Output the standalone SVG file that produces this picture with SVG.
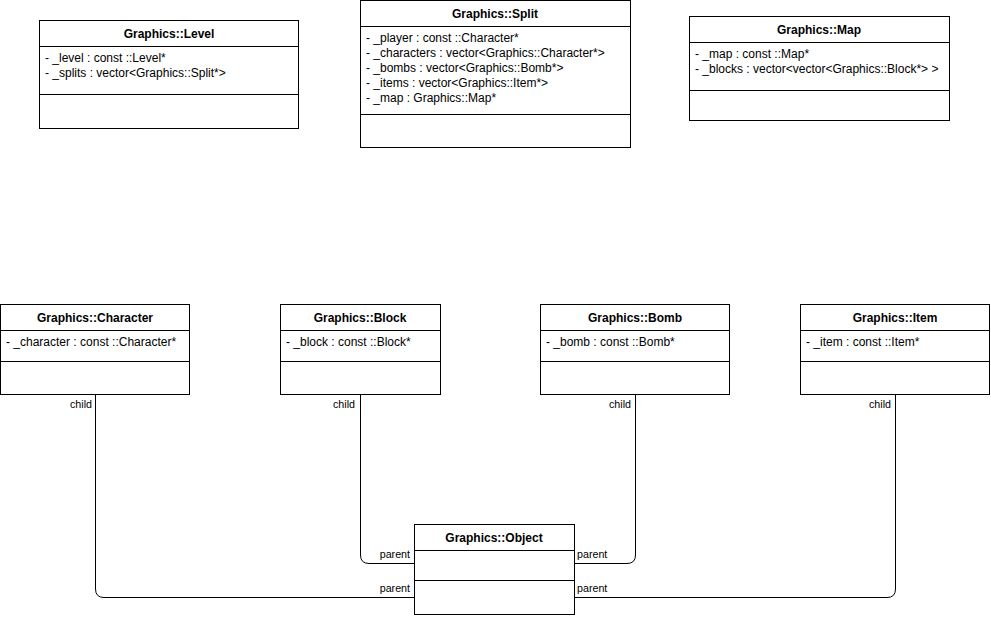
<svg xmlns="http://www.w3.org/2000/svg" width="991" height="618" viewBox="0 0 991 618">
<style>
.box{fill:#fff;stroke:#000;stroke-width:1}
.ln{stroke:#000;stroke-width:1;fill:none}
.t{font-family:"Liberation Sans",Arial,sans-serif;font-size:12px;font-weight:bold;text-anchor:middle;fill:#000}
.a{font-family:"Liberation Sans",Arial,sans-serif;font-size:12px;fill:#000}
.l{font-family:"Liberation Sans",Arial,sans-serif;font-size:10.7px;fill:#000}
</style>
<rect width="991" height="618" fill="#fff"/>
<g id="connectors">
<path class="ln" d="M95.5,394 V589 Q95.5,597.5 104,597.5 H414"/>
<path class="ln" d="M360.5,394 V555 Q360.5,563.5 369,563.5 H414"/>
<path class="ln" d="M635.5,394 V555 Q635.5,563.5 627,563.5 H574"/>
<path class="ln" d="M895.5,394 V589 Q895.5,597.5 887,597.5 H574"/>
<text class="l" x="92" y="408" text-anchor="end">child</text>
<text class="l" x="355" y="408" text-anchor="end">child</text>
<text class="l" x="631" y="408" text-anchor="end">child</text>
<text class="l" x="891" y="408" text-anchor="end">child</text>
<text class="l" x="410" y="558" text-anchor="end">parent</text>
<text class="l" x="410" y="592" text-anchor="end">parent</text>
<text class="l" x="577" y="558">parent</text>
<text class="l" x="577" y="592">parent</text>
</g>
<g id="level">
<rect class="box" x="39.5" y="20.5" width="259" height="108"/>
<path class="ln" d="M39.5,46.5 H298.5 M39.5,94.5 H298.5"/>
<text class="t" x="169" y="38">Graphics::Level</text>
<text class="a" x="45" y="62">- _level : const ::Level*</text>
<text class="a" x="45" y="77">- _splits : vector&lt;Graphics::Split*&gt;</text>
</g>
<g id="split">
<rect class="box" x="360.5" y="0.5" width="270" height="147"/>
<path class="ln" d="M360.5,26.5 H630.5 M360.5,114.5 H630.5"/>
<text class="t" x="495" y="18">Graphics::Split</text>
<text class="a" x="366" y="42">- _player : const ::Character*</text>
<text class="a" x="366" y="57">- _characters : vector&lt;Graphics::Character*&gt;</text>
<text class="a" x="366" y="72">- _bombs : vector&lt;Graphics::Bomb*&gt;</text>
<text class="a" x="366" y="87">- _items : vector&lt;Graphics::Item*&gt;</text>
<text class="a" x="366" y="102">- _map : Graphics::Map*</text>
</g>
<g id="map">
<rect class="box" x="689.5" y="16.5" width="260" height="104"/>
<path class="ln" d="M689.5,42.5 H949.5 M689.5,90.5 H949.5"/>
<text class="t" x="819" y="34">Graphics::Map</text>
<text class="a" x="695" y="58">- _map : const ::Map*</text>
<text class="a" x="695" y="73">- _blocks : vector&lt;vector&lt;Graphics::Block*&gt; &gt;</text>
</g>
<g id="character">
<rect class="box" x="0.5" y="304.5" width="189" height="90"/>
<path class="ln" d="M0.5,330.5 H189.5 M0.5,361.5 H189.5"/>
<text class="t" x="95" y="322">Graphics::Character</text>
<text class="a" x="6" y="346">- _character : const ::Character*</text>
</g>
<g id="block">
<rect class="box" x="280.5" y="304.5" width="160" height="90"/>
<path class="ln" d="M280.5,330.5 H440.5 M280.5,361.5 H440.5"/>
<text class="t" x="360" y="322">Graphics::Block</text>
<text class="a" x="286" y="346">- _block : const ::Block*</text>
</g>
<g id="bomb">
<rect class="box" x="540.5" y="304.5" width="189" height="90"/>
<path class="ln" d="M540.5,330.5 H729.5 M540.5,361.5 H729.5"/>
<text class="t" x="635" y="322">Graphics::Bomb</text>
<text class="a" x="546" y="346">- _bomb : const ::Bomb*</text>
</g>
<g id="item">
<rect class="box" x="800.5" y="304.5" width="189" height="90"/>
<path class="ln" d="M800.5,330.5 H989.5 M800.5,361.5 H989.5"/>
<text class="t" x="895" y="322">Graphics::Item</text>
<text class="a" x="806" y="346">- _item : const ::Item*</text>
</g>
<g id="object">
<rect class="box" x="414.5" y="524.5" width="160" height="90"/>
<path class="ln" d="M414.5,550.5 H574.5 M414.5,580.5 H574.5"/>
<text class="t" x="494" y="542">Graphics::Object</text>
</g>
</svg>
